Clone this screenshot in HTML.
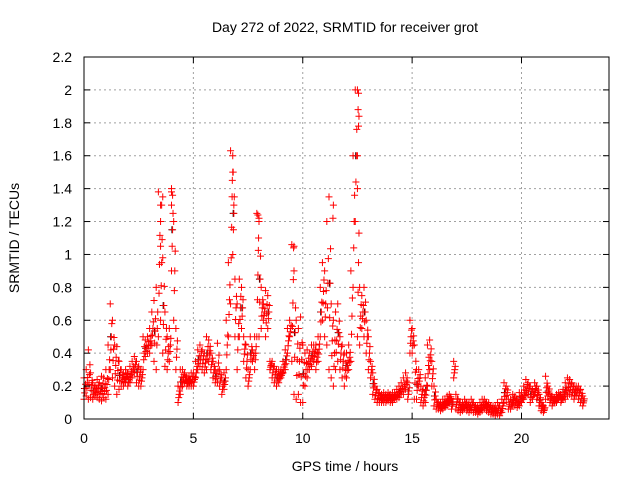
<!DOCTYPE html>
<html><head><meta charset="utf-8"><style>
body{margin:0;background:#fff}
svg{display:block;font-family:"Liberation Sans",sans-serif}
</style></head><body>
<svg id="c" width="640" height="480">
<rect width="640" height="480" fill="#fff"/>
<text x="345" y="32" text-anchor="middle" font-size="14">Day 272 of 2022, SRMTID for receiver grot</text>
<text x="345" y="471" text-anchor="middle" font-size="14">GPS time / hours</text>
<text transform="translate(19,238) rotate(-90)" text-anchor="middle" font-size="14">SRMTID / TECUs</text>
<g id="grid"></g><g id="marks"></g><g id="axes"></g>
</svg>
<script>
const xTicks=[0,5,10,15,20];
const yTicks=[0,0.2,0.4,0.6,0.8,1,1.2,1.4,1.6,1.8,2,2.2];
const yTickLabels=["0","0.2","0.4","0.6","0.8","1","1.2","1.4","1.6","1.8","2","2.2"];
const hours=[0,0.1,0.2,0.3,0.4,0.5,0.6,0.7,0.8,0.9,1,1.1,1.2,1.3,1.4,1.5,1.6,1.7,1.8,1.9,2,2.1,2.2,2.3,2.4,2.5,2.6,2.7,2.8,2.9,3,3.1,3.2,3.3,3.4,3.5,3.6,3.7,3.8,3.9,4,4.1,4.2,4.3,4.4,4.5,4.6,4.7,4.8,4.9,5,5.1,5.2,5.3,5.4,5.5,5.6,5.7,5.8,5.9,6,6.1,6.2,6.3,6.4,6.5,6.6,6.7,6.8,6.9,7,7.1,7.2,7.3,7.4,7.5,7.6,7.7,7.8,7.9,8,8.1,8.2,8.3,8.4,8.5,8.6,8.7,8.8,8.9,9,9.1,9.2,9.3,9.4,9.5,9.6,9.7,9.8,9.9,10,10.1,10.2,10.3,10.4,10.5,10.6,10.7,10.8,10.9,11,11.1,11.2,11.3,11.4,11.5,11.6,11.7,11.8,11.9,12,12.1,12.2,12.3,12.4,12.5,12.6,12.7,12.8,12.9,13,13.1,13.2,13.3,13.4,13.5,13.6,13.7,13.8,13.9,14,14.1,14.2,14.3,14.4,14.5,14.6,14.7,14.8,14.9,15,15.1,15.2,15.3,15.4,15.5,15.6,15.7,15.8,15.9,16,16.1,16.2,16.3,16.4,16.5,16.6,16.7,16.8,16.9,17,17.1,17.2,17.3,17.4,17.5,17.6,17.7,17.8,17.9,18,18.1,18.2,18.3,18.4,18.5,18.6,18.7,18.8,18.9,19,19.1,19.2,19.3,19.4,19.5,19.6,19.7,19.8,19.9,20,20.1,20.2,20.3,20.4,20.5,20.6,20.7,20.8,20.9,21,21.1,21.2,21.3,21.4,21.5,21.6,21.7,21.8,21.9,22,22.1,22.2,22.3,22.4,22.5,22.6,22.7,22.8];
const lowValues=[.12,.14,.12,.13,.12,.14,.13,.12,.11,.13,
.12,.15,.3,.25,.2,.15,.18,.2,.2,.22,
.2,.22,.25,.28,.22,.2,.2,.3,.38,.4,
.4,.45,.35,.3,.5,.6,.4,.32,.3,.35,
.9,.6,.3,.1,.15,.2,.22,.2,.2,.2,
.2,.25,.3,.32,.3,.28,.3,.35,.3,.25,
.22,.22,.2,.15,.18,.3,.5,.7,1.0,.5,
.3,.5,.55,.35,.25,.2,.3,.35,.3,.5,
.5,.55,.6,.5,.55,.3,.25,.22,.2,.22,
.25,.28,.3,.4,.5,.35,.15,.12,.15,.1,
.1,.2,.25,.3,.32,.35,.3,.35,.5,.6,
.5,.45,.3,.25,.2,.3,.35,.3,.25,.2,
.25,.3,.35,.8,1.2,.5,.45,.55,.5,.4,
.3,.25,.15,.12,.1,.1,.1,.1,.1,.11,
.1,.1,.12,.12,.13,.15,.15,.18,.12,.4,
.4,.12,.12,.2,.1,.08,.1,.2,.3,.2,
.08,.06,.06,.05,.06,.07,.08,.1,.06,.25,
.06,.05,.04,.05,.06,.05,.04,.05,.04,.04,
.03,.04,.05,.06,.05,.04,.03,.03,.02,.03,
.02,.04,.1,.12,.06,.06,.08,.08,.07,.08,
.1,.12,.14,.15,.1,.12,.15,.12,.08,.05,
.04,.12,.14,.1,.08,.1,.1,.12,.1,.12,
.12,.14,.15,.14,.12,.14,.12,.1,.08];
const highValues=[.25,.30,.42,.28,.22,.20,.24,.22,.26,.25,
.3,.45,.7,.6,.45,.44,.35,.3,.28,.3,
.28,.32,.35,.38,.35,.32,.3,.5,.48,.5,
.55,.65,.72,.8,1.38,1.3,.98,.65,.5,.55,
1.4,1.2,.55,.2,.3,.3,.28,.25,.26,.28,
.28,.35,.42,.45,.42,.4,.5,.48,.4,.35,
.3,.46,.3,.25,.28,.6,.95,1.63,1.5,.85,
.7,.85,.8,.5,.45,.3,.5,.42,.5,1.25,
1.2,.8,.7,.78,.75,.35,.35,.32,.3,.3,
.3,.35,.42,.55,.6,1.06,.9,.6,.55,.62,
.45,.4,.42,.4,.45,.45,.45,.5,.8,.95,
.9,1.2,1.35,.7,.6,.65,.7,.5,.45,.4,
.4,.45,.9,1.6,2.0,1.4,.8,.75,.8,.6,
.5,.35,.28,.2,.18,.16,.15,.16,.15,.16,
.15,.16,.16,.18,.2,.22,.25,.28,.22,.6,
.55,.45,.3,.3,.2,.18,.25,.45,.48,.35,
.2,.12,.1,.1,.12,.12,.14,.15,.12,.35,
.15,.12,.1,.1,.12,.1,.1,.12,.1,.08,
.08,.1,.12,.12,.1,.1,.08,.08,.08,.1,
.08,.12,.22,.2,.12,.12,.15,.14,.12,.16,
.16,.2,.24,.22,.2,.18,.22,.2,.15,.1,
.08,.26,.2,.15,.14,.13,.15,.16,.15,.18,
.22,.25,.24,.22,.2,.2,.2,.18,.14];
const peakHours=[3.5,3.55,3.6,3.5,4.0,4.05,4.0,6.8,6.82,6.78,6.85,7.95,8.0,7.98,9.6,9.58,11.4,11.38,12.5,12.55,12.53,12.57,12.55,12.5];
const peakValues=[1.2,1.3,1.35,1.05,1.38,1.36,1.3,1.6,1.5,1.45,1.3,1.24,1.22,1.1,1.05,1.04,1.3,1.22,2.0,1.98,1.88,1.84,1.78,1.6];

const L=84,R=609,T=57,B=419,XMAX=24,YMAX=2.2;
const xs=v=>L+v/XMAX*(R-L);
const ys=v=>B-v/YMAX*(B-T);
const NS="http://www.w3.org/2000/svg";
function mk(tag,attrs,parent){const e=document.createElementNS(NS,tag);for(const k in attrs)e.setAttribute(k,attrs[k]);parent.appendChild(e);return e;}
const grid=document.getElementById('grid'),axes=document.getElementById('axes'),marks=document.getElementById('marks');
xTicks.forEach((t,i)=>{
  const x=xs(t);
  if(i>0){const g=mk('line',{x1:x,x2:x,y1:T,y2:B,stroke:'#a0a0a0','stroke-dasharray':'2,3'},grid);
  
  }
  mk('line',{x1:x,x2:x,y1:B,y2:B-6,stroke:'#000'},axes);
  mk('line',{x1:x,x2:x,y1:T,y2:T+6,stroke:'#000'},axes);
  const tx=mk('text',{x:x,y:B+24,'text-anchor':'middle','font-size':14},axes);
  tx.textContent=t;
  
  
});
yTicks.forEach((t,i)=>{
  const y=ys(t);
  if(i>0&&i<yTicks.length-1){const g=mk('line',{x1:L,x2:R,y1:y,y2:y,stroke:'#a0a0a0','stroke-dasharray':'2,3'},grid);
  
  }
  mk('line',{x1:L,x2:L+6,y1:y,y2:y,stroke:'#000'},axes);
  mk('line',{x1:R,x2:R-6,y1:y,y2:y,stroke:'#000'},axes);
  const tx=mk('text',{x:L-12,y:y+5,'text-anchor':'end','font-size':14},axes);
  tx.textContent=yTickLabels[i];
  
  
});
const frame=mk('rect',{x:L,y:T,width:R-L,height:B-T,fill:'none',stroke:'#000'},axes);


let d='',dk='';
function plus(t,v){const x=xs(t),y=ys(v);return `M${x-3.5},${y}h7M${x},${y-3.5}v7`;}
hours.forEach((h,i)=>{
  const lo=lowValues[i],hi=highValues[i];
  d+=plus(h,lo)+plus(h,hi)+plus(h+0.05,(lo+hi)/2)+plus(h+0.03,lo+(hi-lo)*0.3)+plus(h+0.07,lo+(hi-lo)*0.7);
  if(i%4===0) dk+=plus(h+0.02,(lo+hi)/2);
});
peakHours.forEach((h,i)=>{d+=plus(h,peakValues[i]);});
const pk=mk('path',{d:dk,stroke:'#000','stroke-width':1,fill:'none'},marks);


const pr=mk('path',{d:d,stroke:'#f00','stroke-width':1,fill:'none'},marks);


</script>
</body></html>
